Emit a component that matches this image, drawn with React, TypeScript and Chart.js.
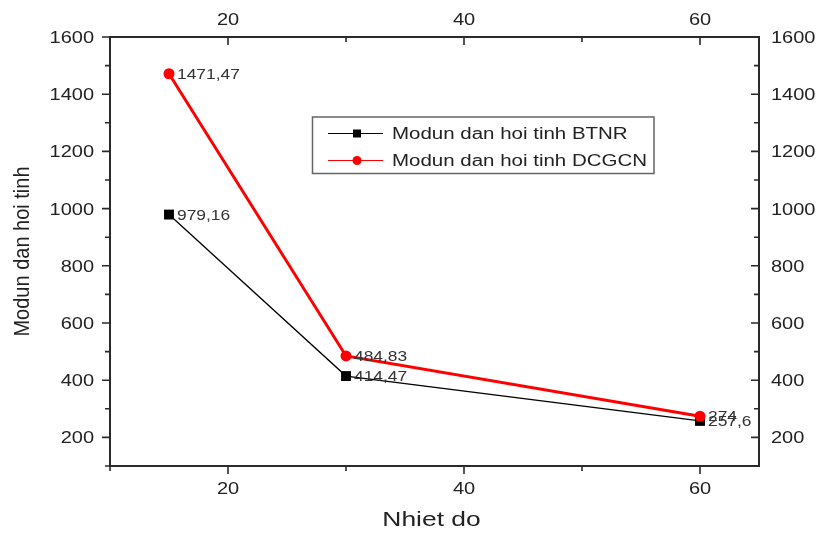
import React, { useEffect, useRef } from 'react';
import { Chart, registerables } from 'chart.js';

Chart.register(...registerables);

// ---- data ----
const temperatures = [15, 30, 60];
const btnrValues = [979.16, 414.47, 257.6];
const dcgcnValues = [1471.47, 484.83, 274];
const btnrLabels = ['979,16', '414,47', '257,6'];
const dcgcnLabels = ['1471,47', '484,83', '274'];
const seriesNames = ['Modun dan hoi tinh BTNR', 'Modun dan hoi tinh DCGCN'];
const seriesColors = ['#000000', '#ff0000'];
const xTicks = [20, 40, 60];
const yTicks = [200, 400, 600, 800, 1000, 1200, 1400, 1600];
const xRange = [10, 65];
const yRange = [100, 1600];
const xTitle = 'Nhiet do';
const yTitle = 'Modun dan hoi tinh';

const FONT = '"Liberation Sans", Arial, sans-serif';

const minorValues = (majors: number[], min: number, max: number) => {
  const step = majors[1] - majors[0];
  const out: number[] = [];
  for (let v = majors[0] - step / 2; v <= max + 1e-9; v += step) {
    if (v >= min - 1e-9) out.push(v);
  }
  return out;
};

// draw horizontally stretched text (the reference glyphs are wide)
const wideText = (
  ctx: CanvasRenderingContext2D,
  text: string,
  x: number,
  y: number,
  align: CanvasTextAlign,
  sx: number,
) => {
  ctx.save();
  ctx.translate(x, y);
  ctx.scale(sx, 1);
  ctx.textAlign = align;
  ctx.fillText(text, 0, 0);
  ctx.restore();
};

const framePlugin = {
  id: 'frame',
  afterDatasetsDraw(chart: any) {
    const ctx = chart.ctx;
    ctx.save();
    ctx.font = `15px ${FONT}`;
    ctx.fillStyle = '#333';
    ctx.textBaseline = 'alphabetic';
    const labelSets = [btnrLabels, dcgcnLabels];
    chart.data.datasets.forEach((ds: any, di: number) => {
      const meta = chart.getDatasetMeta(di);
      meta.data.forEach((pt: any, i: number) => {
        wideText(ctx, labelSets[di][i], pt.x + 8, pt.y + 5, 'left', 1.16);
      });
    });
    ctx.restore();
  },
  afterDraw(chart: any) {
    const ctx = chart.ctx;
    const { left, right, top, bottom } = chart.chartArea;
    const xs = chart.scales.x;
    const ys = chart.scales.y;
    ctx.save();
    ctx.strokeStyle = '#2a2a2a';
    ctx.lineWidth = 1.6;
    ctx.beginPath();
    const MAJ = 8;
    const MIN = 5;
    const xMinor = minorValues(xTicks, xRange[0], xRange[1]);
    const yMinor = minorValues(yTicks, yRange[0], yRange[1]);
    const xMarks = [...xTicks.map((v) => [v, MAJ]), ...xMinor.map((v) => [v, MIN])];
    const yMarks = [...yTicks.map((v) => [v, MAJ]), ...yMinor.map((v) => [v, MIN])];
    xMarks.forEach(([v, len]) => {
      const px = xs.getPixelForValue(v);
      ctx.moveTo(px, bottom);
      ctx.lineTo(px, bottom + len);
      ctx.moveTo(px, top);
      ctx.lineTo(px, top + len);
    });
    yMarks.forEach(([v, len]) => {
      const py = ys.getPixelForValue(v);
      ctx.moveTo(left, py);
      ctx.lineTo(left - len, py);
      ctx.moveTo(right, py);
      ctx.lineTo(right - len, py);
    });
    ctx.stroke();
    ctx.lineWidth = 2;
    ctx.strokeRect(left, top, right - left, bottom - top);

    // tick labels, placed with the chart's scales
    ctx.fillStyle = '#222';
    ctx.font = `16px ${FONT}`;
    ctx.textBaseline = 'alphabetic';
    xs.ticks.forEach((t: any) => {
      const px = xs.getPixelForValue(t.value);
      wideText(ctx, String(t.value), px, 494, 'center', 1.25);
      wideText(ctx, String(t.value), px, 25, 'center', 1.25);
    });
    ys.ticks.forEach((t: any) => {
      const py = ys.getPixelForValue(t.value);
      wideText(ctx, String(t.value), left - 16, py + 6, 'right', 1.25);
      wideText(ctx, String(t.value), right + 12, py + 6, 'left', 1.25);
    });

    // axis titles
    ctx.font = `20px ${FONT}`;
    wideText(ctx, xTitle, (left + right) / 2 - 3, 526, 'center', 1.32);
    ctx.save();
    ctx.translate(29, (top + bottom) / 2);
    ctx.rotate(-Math.PI / 2);
    ctx.scale(1, 1.12);
    ctx.textAlign = 'center';
    ctx.fillText(yTitle, 0, 0);
    ctx.restore();

    // legend
    const lx = 312.5, ly = 117, lw = 341.5, lh = 56.5;
    ctx.strokeStyle = '#666';
    ctx.lineWidth = 1.5;
    ctx.strokeRect(lx, ly, lw, lh);
    const rows = [133.5, 160.5];
    chart.data.datasets.forEach((ds: any, di: number) => {
      const y = rows[di];
      ctx.strokeStyle = ds.borderColor;
      ctx.lineWidth = 1.2;
      ctx.beginPath();
      ctx.moveTo(328, y);
      ctx.lineTo(383, y);
      ctx.stroke();
      ctx.fillStyle = ds.borderColor;
      ctx.beginPath();
      if (ds.pointStyle === 'rect') {
        ctx.rect(357 - 4, y - 4, 8, 8);
      } else {
        ctx.arc(357, y, 4.5, 0, Math.PI * 2);
      }
      ctx.fill();
      ctx.fillStyle = '#222';
      ctx.font = `16px ${FONT}`;
      wideText(ctx, ds.label, 392, y + 5.8, 'left', 1.28);
    });
    ctx.restore();
  },
};

export default function App() {
  const ref = useRef<HTMLCanvasElement>(null);
  useEffect(() => {
    if (!ref.current) return;
    const setX = (s: any) => {
      s.ticks = xTicks.map((v) => ({ value: v }));
    };
    const setY = (s: any) => {
      s.ticks = yTicks.map((v) => ({ value: v }));
    };
    const hiddenTicks = { display: false };
    const chart = new Chart(ref.current, {
      type: 'line',
      data: {
        datasets: [
          {
            label: seriesNames[0],
            data: temperatures.map((t, i) => ({ x: t, y: btnrValues[i] })),
            borderColor: seriesColors[0],
            backgroundColor: seriesColors[0],
            borderWidth: 1.3,
            pointStyle: 'rect',
            pointRadius: 7,
            pointBorderWidth: 0,
            order: 1,
          },
          {
            label: seriesNames[1],
            data: temperatures.map((t, i) => ({ x: t, y: dcgcnValues[i] })),
            borderColor: seriesColors[1],
            backgroundColor: seriesColors[1],
            borderWidth: 3,
            pointStyle: 'circle',
            pointRadius: 5.5,
            pointBorderWidth: 0,
            order: 0,
          },
        ],
      },
      options: {
        responsive: false,
        animation: false,
        layout: { padding: 0 },
        plugins: { legend: { display: false }, tooltip: { enabled: false } },
        scales: {
          x: {
            type: 'linear',
            position: 'bottom',
            min: xRange[0],
            max: xRange[1],
            afterBuildTicks: setX,
            afterFit: (s: any) => { s.height = 67; },
            grid: { display: false, drawTicks: false },
            border: { display: false },
            ticks: hiddenTicks,
          },
          x2: {
            type: 'linear',
            axis: 'x',
            position: 'top',
            min: xRange[0],
            max: xRange[1],
            afterBuildTicks: setX,
            afterFit: (s: any) => { s.height = 37; },
            grid: { display: false, drawTicks: false },
            border: { display: false },
            ticks: hiddenTicks,
          },
          y: {
            type: 'linear',
            position: 'left',
            min: yRange[0],
            max: yRange[1],
            afterBuildTicks: setY,
            afterFit: (s: any) => { s.width = 110; },
            grid: { display: false, drawTicks: false },
            border: { display: false },
            ticks: hiddenTicks,
          },
          y2: {
            type: 'linear',
            axis: 'y',
            position: 'right',
            min: yRange[0],
            max: yRange[1],
            afterBuildTicks: setY,
            afterFit: (s: any) => { s.width = 57; },
            grid: { display: false, drawTicks: false },
            border: { display: false },
            ticks: hiddenTicks,
          },
        },
      },
      plugins: [framePlugin],
    } as any);
    return () => chart.destroy();
  }, []);
  return (
    <div style={{ position: 'fixed', left: 0, top: 0, width: 816, height: 533, background: '#fff' }}>
      <canvas ref={ref} width={816} height={533} style={{ display: 'block' }} />
    </div>
  );
}
